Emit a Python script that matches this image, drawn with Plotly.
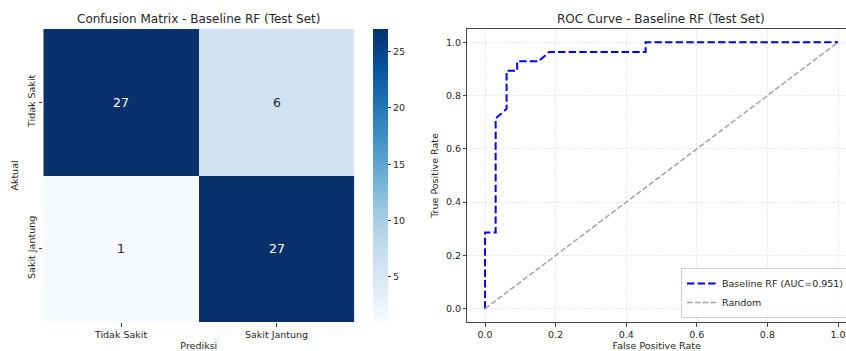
import plotly.graph_objects as go

# ---------------- data ----------------
pred_labels = ["Tidak Sakit", "Sakit Jantung"]
actual_labels = ["Tidak Sakit", "Sakit Jantung"]
cm_values = [[27, 6],
             [1, 27]]

roc_fpr = [0.0, 0.0, 0.030, 0.030, 0.061, 0.061, 0.091, 0.091, 0.152, 0.182, 0.455, 0.455, 1.0]
roc_tpr = [0.0, 0.286, 0.286, 0.714, 0.750, 0.893, 0.893, 0.929, 0.929, 0.964, 0.964, 1.0, 1.0]
roc_name = "Baseline RF (AUC=0.951)"

random_x = [0.0, 1.0]
random_y = [0.0, 1.0]

roc_ticks = [0.0, 0.2, 0.4, 0.6, 0.8, 1.0]
cbar_ticks = [5, 10, 15, 20, 25]

# ---------------- style ----------------
FONT = "DejaVu Sans"
TXT = "#262626"
W, H = 846, 351
blues = [[0.0, "#f7fbff"], [0.125, "#deebf7"], [0.25, "#c6dbef"], [0.375, "#9ecae1"],
         [0.5, "#6baed6"], [0.625, "#4292c6"], [0.75, "#2171b5"], [0.875, "#08519c"],
         [1.0, "#08306b"]]

def px_x(p):
    return p / W

def px_y(p):
    return 1 - p / H

plot_top, plot_bot = 29, 322
ydom = [px_y(plot_bot), px_y(plot_top)]

fig = go.Figure()

fig.add_trace(go.Heatmap(
    z=cm_values, x=pred_labels, y=actual_labels,
    colorscale=blues, zmin=1, zmax=27,
    xaxis="x", yaxis="y",
    showlegend=False,
    colorbar=dict(
        x=px_x(372.7), xanchor="left", xpad=0, ypad=0,
        y=0.5, yanchor="middle", len=(plot_bot - plot_top) / H, lenmode="fraction",
        thickness=15, thicknessmode="pixels", outlinewidth=0,
        tickvals=cbar_ticks, ticks="outside", ticklen=3.5, tickcolor="#333",
        tickfont=dict(family=FONT, size=9.5, color=TXT),
    ),
    hoverinfo="z",
))

annotations = []
for i, row in enumerate(cm_values):
    for j, v in enumerate(row):
        annotations.append(dict(
            x=pred_labels[j], y=actual_labels[i], xref="x", yref="y",
            text=str(v), showarrow=False,
            font=dict(family=FONT, size=12.5, color="white" if v > 14 else TXT),
        ))

fig.add_trace(go.Scatter(
    x=roc_fpr, y=roc_tpr, mode="lines", name=roc_name,
    line=dict(color="#0000ff", width=2, dash="7.4px,3.2px"),
    xaxis="x2", yaxis="y2",
))
fig.add_trace(go.Scatter(
    x=random_x, y=random_y, mode="lines", name="Random",
    line=dict(color="#a3a3a3", width=1.5, dash="5.5px,2.4px"),
    xaxis="x2", yaxis="y2",
))

# subplot titles
annotations.append(dict(text="Confusion Matrix - Baseline RF (Test Set)", xref="paper", yref="paper",
                        x=px_x(198.5), y=px_y(19), showarrow=False, xanchor="center", yanchor="middle",
                        font=dict(family=FONT, size=12, color=TXT)))
annotations.append(dict(text="ROC Curve - Baseline RF (Test Set)", xref="paper", yref="paper",
                        x=px_x(660.5), y=px_y(19), showarrow=False, xanchor="center", yanchor="middle",
                        font=dict(family=FONT, size=12, color=TXT)))

tickfont = dict(family=FONT, size=9.5, color=TXT)
titlefont = dict(family=FONT, size=9.5, color=TXT)
GRID = "#ececec"

fig.update_layout(
    width=W, height=H,
    margin=dict(l=0, r=0, t=0, b=0, autoexpand=False),
    paper_bgcolor="white", plot_bgcolor="white",
    font=dict(family=FONT, size=9.5, color=TXT),
    annotations=annotations,
    showlegend=True,
    legend=dict(
        x=px_x(681), y=px_y(318), xanchor="left", yanchor="bottom",
        bgcolor="rgba(255,255,255,0.8)", bordercolor="#d0d0d0", borderwidth=1,
        font=dict(family=FONT, size=9.5, color=TXT), itemwidth=30,
        tracegroupgap=0,
    ),
    xaxis=dict(
        domain=[px_x(43.3), px_x(354.3)], anchor="y",
        showgrid=False, zeroline=False, showline=False,
        ticks="outside", ticklen=3.5, tickcolor="#333", tickfont=tickfont,
        title=dict(text="Prediksi", font=titlefont, standoff=4),
    ),
    yaxis=dict(
        domain=ydom, anchor="x", autorange="reversed",
        showgrid=False, zeroline=False, showline=False,
        ticks="outside", ticklen=3.5, tickcolor="#333", tickfont=tickfont,
        tickangle=-90,
        title=dict(text="Aktual", font=titlefont, standoff=5),
    ),
    xaxis2=dict(
        domain=[px_x(467.4), 1.0], anchor="y2",
        range=[-0.05, (W - 485) / 353.0],
        tickvals=roc_ticks, ticktext=[f"{t:.1f}" for t in roc_ticks],
        showgrid=True, gridcolor=GRID, griddash="3px,1.5px", gridwidth=0.8,
        zeroline=False, showline=True, linecolor="#444", linewidth=1, mirror=True,
        ticks="outside", ticklen=3.5, tickcolor="#444", tickfont=tickfont,
        title=dict(text="False Positive Rate", font=titlefont, standoff=4),
    ),
    yaxis2=dict(
        domain=ydom, anchor="x2",
        range=[-0.05, 1.05],
        tickvals=roc_ticks, ticktext=[f"{t:.1f}" for t in roc_ticks],
        showgrid=True, gridcolor=GRID, griddash="3px,1.5px", gridwidth=0.8,
        zeroline=False, showline=True, linecolor="#444", linewidth=1,
        ticks="outside", ticklen=3.5, tickcolor="#444", tickfont=tickfont,
        title=dict(text="True Positive Rate", font=titlefont, standoff=5),
    ),
)

fig.write_html("out.html", config={"displayModeBar": False},
               post_script="document.body.style.margin='0px';document.body.style.overflow='hidden';")
